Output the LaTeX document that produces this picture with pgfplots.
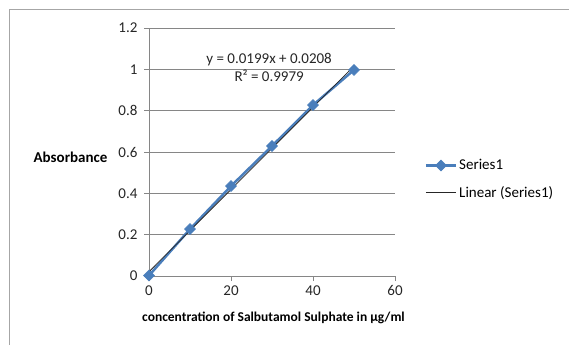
\documentclass[border=0pt]{standalone}
\usepackage{pgfplots}
\pgfplotsset{compat=1.18}
\usepackage{fontspec}
\setmainfont{Carlito}
\definecolor{serblue}{RGB}{74,126,187}
\definecolor{gridgray}{RGB}{134,134,134}
\begin{document}
\begin{tikzpicture}
\useasboundingbox (0pt,0pt) rectangle (569pt,345pt);
\draw[gray!70, line width=0.8pt] (9.5pt,0pt) -- (9.5pt,335.5pt) -- (569pt,335.5pt);
\begin{axis}[
  at={(149pt,69pt)}, anchor=south west,
  scale only axis, width=246pt, height=248pt,
  xmin=0, xmax=60, ymin=0, ymax=1.2,
  xtick={0,20,40,60}, ytick={0,0.2,0.4,0.6,0.8,1,1.2},
  axis x line*=bottom, axis y line*=left,
  axis line style={gridgray, line width=0.6pt, -},
  ymajorgrids, grid style={gridgray, line width=0.6pt},
  tick align=outside, major tick length=5pt,
  tick style={gridgray, line width=0.6pt},
  /pgf/number format/assume math mode=true,
  tick label style={font=\fontsize{15}{17}\selectfont, text=black!85},
  xticklabel style={yshift=-1pt},
  yticklabel style={xshift=-3pt},
  xlabel={concentration of Salbutamol Sulphate in µg/ml},
  xlabel style={font=\fontsize{13.5}{15}\selectfont\bfseries, at={(axis description cs:0.506,-0.169)}, anchor=center},
  ylabel={Absorbance},
  ylabel style={font=\fontsize{15}{17}\selectfont\bfseries, rotate=-90, at={(axis description cs:-0.319,0.48)}, anchor=center},
  legend style={at={(1.12,0.39)}, anchor=west, draw=none, fill=none,
    font=\fontsize{15}{17}\selectfont, row sep=11pt, inner sep=0pt},
  legend cell align=left,
  legend image code/.code={\draw[mark repeat=2,mark phase=2] plot coordinates {(0pt,0pt)(15pt,0pt)(30pt,0pt)};},
  clip=false,
]
\addplot[serblue, line width=2.5pt, mark=square*, mark size=3.9pt,
  mark options={rotate=45, fill=serblue, draw=serblue, line width=0.5pt}]
  coordinates {(0,0.002) (10,0.227) (20,0.435) (30,0.629) (40,0.827) (50,0.997)};
\addlegendentry{Series1}
\addplot[black!85, line width=0.8pt] coordinates {(0,0.0208) (50,1.0158)};
\addlegendentry{Linear (Series1)}
\node[font=\fontsize{15}{17}\selectfont, text=black!85, align=center, inner sep=0pt] at (axis cs:29.3,1.01)
  {y = 0.0199x + 0.0208\\[1pt]R² = 0.9979};
\end{axis}
\end{tikzpicture}
\end{document}
